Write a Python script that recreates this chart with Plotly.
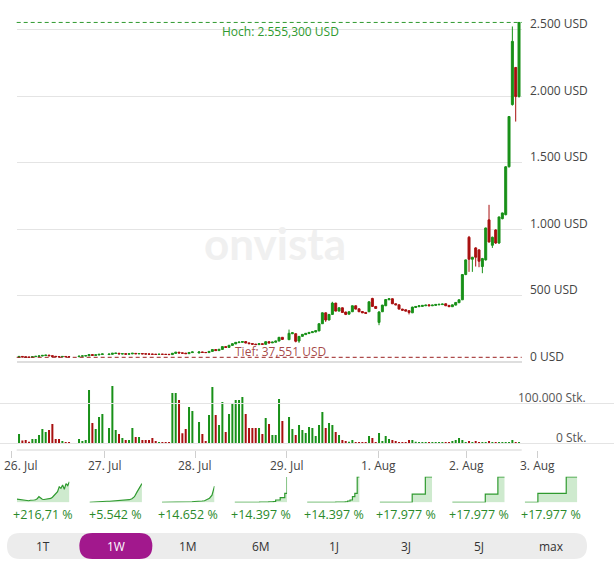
import plotly.graph_objects as go

W, H = 614, 578
def fx(px): return px / W
def fy(py): return 1 - py / H

# ---------------- data ----------------
slot = (list(range(0, 16)) + list(range(18, 26)) + list(range(27, 53)) +
        list(range(54, 80)) + list(range(81, 151)))

open_ = [38,44,41,39,38,42,44,47,51,54,50,45,43,41,44,42,
         42,46,47,49,58,52,55,59,
         58,60,66,68,62,65,61,63,67,63,66,64,63,62,61,59,61,60,60,58,67,76,71,69,65,73,
         70,78,74,73,82,96,88,97,118,112,127,138,148,150,156,146,141,137,133,140,135,155,146,151,160,188,
         170,215,215,160,195,208,216,223,228,236,
         290,372,318,360,445,385,410,378,362,380,
         425,402,382,375,380,480,420,300,380,425,
         470,478,440,432,400,395,388,372,412,418,
         420,425,432,425,428,432,434,440,428,418,
         430,448,470,660,940,775,860,845,720,770,
         1071,880,995,897,1080,1110,1470,1938,2217,1998]
high = [45,45,42,40,43,46,49,53,55,55,51,46,44,45,45,43,
        47,49,51,60,59,57,61,64,
        63,70,70,69,66,66,65,69,68,67,67,65,64,63,62,62,62,61,61,70,78,77,72,70,76,80,
        80,79,75,84,98,97,100,120,119,130,142,152,155,158,157,147,142,138,142,141,158,156,154,162,190,189,
        246,225,217,197,212,220,227,232,240,292,
        375,374,362,455,447,412,412,380,382,427,
        427,404,384,377,457,485,422,385,432,475,
        480,480,442,434,402,397,390,418,422,427,
        430,432,434,432,437,438,440,442,430,434,
        452,472,662,772,950,792,865,850,785,1012,
        1184,945,1000,1095,1125,1475,1850,2525,2220,2555.3]
low = [37.6,39,38,37.551,37.8,41,43,46,50,48,43,41,40,40,42,40,
       41,45,46,48,51,51,54,58,
       57,59,65,62,61,60,60,62,63,62,62,61,60,59,58,58,59,58,57,57,66,69,67,64,64,72,
       69,73,72,72,81,86,87,96,110,111,126,137,147,149,143,138,134,131,132,133,134,143,145,150,158,170,
       168,212,150,146,193,206,214,221,226,234,
       288,304,316,358,383,383,373,355,360,378,
       398,378,370,366,378,418,403,279,378,423,
       468,438,430,398,390,383,360,370,410,416,
       418,423,423,423,426,430,432,423,416,416,
       428,446,468,655,680,680,720,715,670,765,
       900,860,890,890,1075,1105,1465,1930,1810,1990]
close = [44,40,38,37.8,42,45,48,52,54,49,44,42,41,44,42,41,
         46,48,50,58,52,56,60,63,
         62,68,69,63,65,61,64,68,64,66,63,62,61,60,59,61,60,59,58,68,76,70,68,65,74,78,
         78,74,73,82,96,88,98,118,112,128,140,150,152,156,145,140,136,133,140,135,155,145,152,160,188,172,
         218,222,158,195,210,218,225,230,238,290,
         372,318,360,445,385,410,375,360,380,425,
         400,380,372,368,455,420,405,378,430,472,
         478,440,432,400,392,385,375,415,420,425,
         428,430,425,430,435,436,438,425,418,432,
         450,470,660,770,775,790,790,760,780,1010,
         905,940,897,1093,1123,1470,1848,2413,1998,2555.3]
volume_k = [23,7,8,4,11,11,21,36,28,33,48,11,11,6,3,3,
            11,6,8,133,51,36,66,73,
            38,143,33,23,13,8,8,38,16,16,8,8,8,13,6,3,3,3,3,126,126,108,25,36,91,81,
            53,23,6,71,141,71,46,103,28,73,98,108,108,116,73,38,38,38,38,23,63,48,21,21,111,56,
            66,36,21,46,33,26,41,38,18,46,
            78,38,51,46,28,21,8,6,4,8,
            3,3,1,3,18,13,1,26,6,18,
            11,8,6,1,1,1,8,8,4,1,
            3,3,3,1,1,1,1,1,1,6,
            8,13,8,2,6,3,6,3,1,3,
            6,3,3,3,1,3,1,8,1,1]

price_ticks = [0, 500, 1000, 1500, 2000, 2500]
price_tick_text = ["0 USD", "500 USD", "1.000 USD", "1.500 USD", "2.000 USD", "2.500 USD"]
vol_ticks = [0, 100]
vol_tick_text = ["0 Stk.", "100.000 Stk."]
day_pos = [-2.2, 25.8, 52.9, 80.4, 108.0, 134.3, 155.7]
day_labels = ["26. Jul", "27. Jul", "28. Jul", "29. Jul", "1. Aug", "2. Aug", "3. Aug"]
high_value = 2555.3
low_value = 37.551
high_text = "Hoch: 2.555,300 USD"
low_text = "Tief: 37,551 USD"

spark_labels = ["+216,71 %", "+5.542 %", "+14.652 %", "+14.397 %", "+14.397 %",
                "+17.977 %", "+17.977 %", "+17.977 %"]
spark_1t = [0.12,0.11,0.10,0.08,0.07,0.06,0.07,0.06,0.08,0.07,0.09,0.10,0.14,0.22,0.16,0.12,
            0.11,0.12,0.13,0.12,0.15,0.20,0.29,0.35,0.42,0.61,0.55,0.68,0.51,0.74,0.66,0.81]
spark_1w = [0.00,0.01,0.01,0.02,0.02,0.03,0.03,0.04,0.04,0.05,0.05,0.06,0.06,0.07,0.08,0.09,
            0.10,0.14,0.22,0.40,0.55,0.74]
spark_1m = [0.00,0.00,0.00,0.00,0.00,0.01,0.01,0.01,0.01,0.01,0.02,0.02,0.02,0.03,0.03,0.04,
            0.05,0.06,0.10,0.16,0.28,0.64]
spark_6m = [0.00,0.00,0.00,0.00,0.00,0.00,0.00,0.00,0.00,0.00,0.00,0.01,0.01,0.01,0.01,0.02,
            0.02,0.03,0.09,0.09,0.18,0.18,0.35,1.00]
spark_1j = [0.00,0.00,0.00,0.00,0.00,0.00,0.00,0.00,0.00,0.00,0.00,0.00,0.01,0.01,0.01,0.01,
            0.02,0.05,0.09,0.22,0.35,1.00,1.00]
spark_3j_x = [0, 0.62, 0.87, 1.0]
spark_3j = [0.0, 0.32, 1.0, 1.0]
spark_5j_x = [0, 0.63, 0.87, 1.0]
spark_5j = [0.0, 0.32, 1.0, 1.0]
spark_max_x = [0, 0.25, 0.79, 1.0]
spark_max = [0.0, 0.35, 1.0, 1.0]

buttons = ["1T", "1W", "1M", "6M", "1J", "3J", "5J", "max"]
selected = "1W"

# ---------------- style ----------------
G = "#189018"
R = "#a80f0f"
GRID = "#e4e4e4"
TXT = "#444444"
FONT = "Open Sans"
PURPLE = "#a2188d"

X_RANGE = [-0.7, 150.8]
PITCH = 3.333
X0PX = 19
dom_x = [fx(16.7), fx(521.7)]

fig = go.Figure()

fig.add_trace(go.Candlestick(
    x=slot, open=open_, high=high, low=low, close=close,
    xaxis="x", yaxis="y",
    increasing=dict(line=dict(color=G, width=1), fillcolor=G),
    decreasing=dict(line=dict(color=R, width=1), fillcolor=R),
    whiskerwidth=0, hoverinfo="skip", showlegend=False))

vol_colors = [G if c >= o else R for o, c in zip(open_, close)]
fig.add_trace(go.Bar(x=slot, y=volume_k, xaxis="x2", yaxis="y2",
                     marker=dict(color=vol_colors, line=dict(width=0)),
                     width=0.6, hoverinfo="skip", showlegend=False))

fig.add_trace(go.Scatter(x=day_pos, y=[0] * len(day_pos), xaxis="x3", yaxis="y2",
                         mode="none", hoverinfo="skip", showlegend=False))

k = 0.133
zero_py = 362.3
y_dom = [fy(366), fy(8)]
y_range = [-(366 - zero_py) / k, (zero_py - 8) / k]

kv = 0.4  # px per 1000 Stk
zero_v = 443.3
y2_dom = [fy(447), fy(378)]
y2_range = [-(447 - zero_v) / kv, (zero_v - 378) / kv]

layout = dict(
    width=W, height=H, margin=dict(l=0, r=0, t=0, b=0),
    paper_bgcolor="white", plot_bgcolor="rgba(0,0,0,0)",
    font=dict(family=FONT, size=12, color=TXT),
    boxgap=0.15, bargap=0.4, showlegend=False,
    xaxis=dict(domain=dom_x, range=X_RANGE, showgrid=False, zeroline=False,
               showticklabels=False, ticks="", rangeslider=dict(visible=False),
               anchor="y", fixedrange=True),
    yaxis=dict(domain=y_dom, range=y_range, tickvals=price_ticks, showticklabels=False,
               showgrid=True, gridcolor=GRID, gridwidth=1, zeroline=True,
               zerolinecolor="#dedede", zerolinewidth=2, anchor="x", fixedrange=True),
    xaxis2=dict(domain=dom_x, range=X_RANGE, showgrid=False, zeroline=False,
                showticklabels=False, ticks="", anchor="y2", fixedrange=True),
    yaxis2=dict(domain=y2_dom, range=y2_range, tickvals=vol_ticks, showticklabels=False,
                showgrid=True, gridcolor=GRID, gridwidth=1, zeroline=True,
                zerolinecolor=GRID, zerolinewidth=1, anchor="x2", fixedrange=True),
    xaxis3=dict(domain=[0, 1], range=[-X0PX / PITCH, (W - X0PX) / PITCH],
                tickvals=day_pos, ticks="outside", ticklen=7, tickcolor="#cfcfcf",
                tickwidth=1, showticklabels=False, showgrid=False, zeroline=False,
                showline=False, anchor="free", position=fy(450), fixedrange=True),
)

spark_series = [
    (list(range(len(spark_1t))), spark_1t, "linear"),
    (list(range(len(spark_1w))), spark_1w, "linear"),
    (list(range(len(spark_1m))), spark_1m, "linear"),
    (list(range(len(spark_6m))), spark_6m, "hv"),
    (list(range(len(spark_1j))), spark_1j, "hv"),
    (spark_3j_x, spark_3j, "hv"),
    (spark_5j_x, spark_5j, "hv"),
    (spark_max_x, spark_max, "hv"),
]
SP_PITCH = 72.55
for i, (xs, ys, shape) in enumerate(spark_series):
    xa = 4 + i
    ya = 3 + i
    left = 16.9 + SP_PITCH * i
    layout[f"xaxis{xa}"] = dict(domain=[fx(left), fx(left + 52.5)], visible=False,
                                range=[xs[0], xs[-1]], anchor=f"y{ya}", fixedrange=True)
    layout[f"yaxis{ya}"] = dict(domain=[fy(502.5), fy(476.5)], visible=False,
                                range=[-0.01, 1.02], anchor=f"x{xa}", fixedrange=True)
    fig.add_trace(go.Scatter(x=xs, y=ys, xaxis=f"x{xa}", yaxis=f"y{ya}", mode="lines",
                             line=dict(color="#2f9a2f", width=1.2, shape=shape),
                             fill="tozeroy", fillcolor="rgba(60,170,60,0.25)",
                             hoverinfo="skip", showlegend=False))

fig.update_layout(**layout)

ann = []
ann.append(dict(text="<b>onvista</b>", xref="paper", yref="paper", x=fx(275), y=fy(243),
                showarrow=False, font=dict(size=44, color="#f0f0f0", family="Lato")))
for v, t in zip(price_ticks, price_tick_text):
    ann.append(dict(text=t, xref="paper", yref="y", x=fx(528), y=v, yshift=6,
                    xanchor="left", yanchor="middle", showarrow=False,
                    font=dict(size=12, color=TXT)))
for v, t in zip(vol_ticks, vol_tick_text):
    ann.append(dict(text=t, xref="paper", yref="y2", x=fx(588), y=v, yshift=6,
                    xanchor="right", yanchor="middle", showarrow=False,
                    font=dict(size=12, color="#555555")))
ann.append(dict(text=high_text, xref="paper", yref="y", x=fx(280), y=high_value,
                yshift=-9, xanchor="center", yanchor="middle", showarrow=False,
                font=dict(size=12, color="#2f9a2f")))
ann.append(dict(text=low_text, xref="paper", yref="y", x=fx(280), y=low_value,
                yshift=6, xanchor="center", yanchor="middle", showarrow=False,
                font=dict(size=12, color="rgba(150,40,40,0.85)")))
for i, (p, t) in enumerate(zip(day_pos, day_labels)):
    if i == 0:
        ann.append(dict(text=t, xref="paper", yref="paper", x=fx(2), y=fy(465),
                        xanchor="left", yanchor="middle", showarrow=False,
                        font=dict(size=12, color=TXT)))
    else:
        ann.append(dict(text=t, xref="x3", yref="paper", x=p, y=fy(465),
                        xanchor="center", yanchor="middle", showarrow=False,
                        font=dict(size=12, color=TXT)))
for i, t in enumerate(spark_labels):
    ann.append(dict(text=t, xref="paper", yref="paper", x=fx(43.3 + SP_PITCH * i), y=fy(514),
                    xanchor="center", yanchor="middle", showarrow=False,
                    font=dict(size=12.5, color="#2b8a2b")))
for i, b in enumerate(buttons):
    ann.append(dict(text=b, xref="paper", yref="paper", x=fx(43.3 + SP_PITCH * i), y=fy(546),
                    xanchor="center", yanchor="middle", showarrow=False,
                    font=dict(size=12, color="white" if b == selected else "#333333")))


def rrect(x0, y0, x1, y1, r):
    pts = [("M", x0 + r, y0), ("L", x1 - r, y0), ("Q", x1, y0, x1, y0 + r),
           ("L", x1, y1 - r), ("Q", x1, y1, x1 - r, y1), ("L", x0 + r, y1),
           ("Q", x0, y1, x0, y1 - r), ("L", x0, y0 + r), ("Q", x0, y0, x0 + r, y0)]
    s = ""
    for p in pts:
        cmd = p[0]
        coords = p[1:]
        parts = []
        for j in range(0, len(coords), 2):
            parts.append(f"{fx(coords[j]):.5f},{fy(coords[j + 1]):.5f}")
        s += cmd + " " + " ".join(parts) + " "
    return s + "Z"


shapes = [
    dict(type="line", xref="paper", yref="y", x0=dom_x[0], x1=dom_x[1], y0=high_value,
         y1=high_value, line=dict(color="#2f9a2f", width=1, dash="4px,3px"), layer="below"),
    dict(type="line", xref="paper", yref="y", x0=dom_x[0], x1=dom_x[1], y0=low_value,
         y1=low_value, line=dict(color="#9a2020", width=1, dash="4px,3px"), layer="above"),
    dict(type="line", xref="paper", yref="paper", x0=dom_x[0], x1=dom_x[1], y0=fy(450),
         y1=fy(450), line=dict(color="#d4d4d4", width=1)),
    dict(type="path", xref="paper", yref="paper", path=rrect(7, 533, 587, 559, 13),
         fillcolor="#ececec", line=dict(width=0), layer="below"),
]
sel = buttons.index(selected)
cx = 43.3 + SP_PITCH * sel
shapes.append(dict(type="path", xref="paper", yref="paper",
                   path=rrect(cx - 36.5, 533, cx + 36.5, 559, 13),
                   fillcolor=PURPLE, line=dict(width=0), layer="below"))

fig.update_layout(annotations=ann, shapes=shapes)
fig.write_html("out.html", config={"displayModeBar": False},
               post_script="document.body.style.margin='0';")
